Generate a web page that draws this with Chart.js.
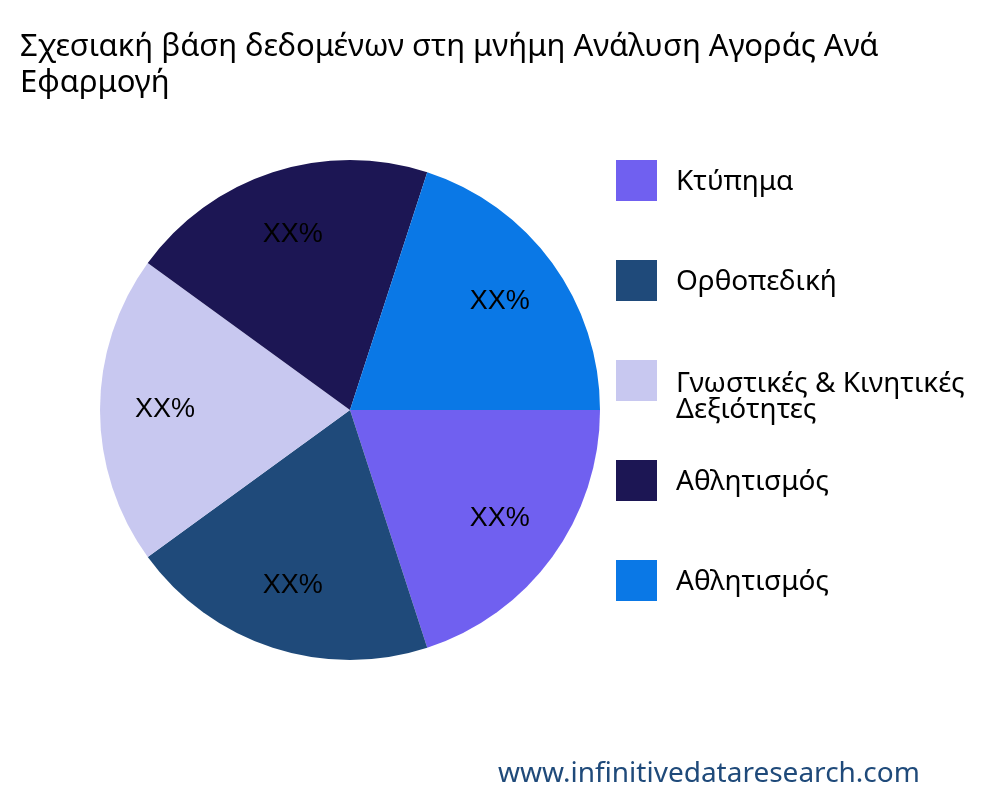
<!DOCTYPE html>
<html><head><meta charset="utf-8">
<script src="https://cdn.jsdelivr.net/npm/chart.js"></script>
<style>
body{margin:0;width:1000px;height:800px;overflow:hidden;position:relative;background:#fff;font-family:"Noto Sans","Open Sans",sans-serif}
#title{position:absolute;left:20px;top:26px;font-size:31px;line-height:36px;white-space:nowrap;color:#000}
#legend{position:absolute;left:616px;top:160px;width:500px}
.item{position:absolute;left:0;height:40px;white-space:nowrap}
.sw{position:absolute;left:0;top:0;width:41px;height:41px}
.tx{position:absolute;left:60px;top:2px;font-size:28px;line-height:26px;color:#000}
#wm{position:absolute;left:498px;top:752px;font-size:28px;color:#1F4A7A}
canvas{position:absolute;left:0;top:0}
</style></head><body>
<canvas id="c" width="1000" height="800"></canvas>
<div id="title">Σχεσιακή βάση δεδομένων στη μνήμη Ανάλυση Αγοράς Ανά<br>Εφαρμογή</div>
<div id="legend"></div>
<div id="wm">www.infinitivedataresearch.com</div>
<script>
const categories=["Κτύπημα","Ορθοπεδική","Γνωστικές & Κινητικές Δεξιότητες","Αθλητισμός","Αθλητισμός"];
const legendLabels=["Κτύπημα","Ορθοπεδική","Γνωστικές & Κινητικές<br>Δεξιότητες","Αθλητισμός","Αθλητισμός"];
const values=[20,20,20,20,20];
const sliceLabels=["XX%","XX%","XX%","XX%","XX%"];
const colors=["#7060F0","#1F4A7A","#C8C8F0","#1C1654","#0A78E6"];
const lg=document.getElementById('legend');
legendLabels.forEach((l,i)=>{const d=document.createElement('div');d.className='item';d.style.top=(i*100)+'px';
d.innerHTML='<div class="sw" style="background:'+colors[i]+'"></div><div class="tx" style="top:'+(i==2?8:6)+'px">'+l+'</div>';lg.appendChild(d);});
const labelPlugin={id:'lbl',afterDatasetsDraw(ch){const ctx=ch.ctx;ctx.save();ctx.font='27px "Liberation Sans",Arial';ctx.fillStyle='#000';ctx.textAlign='center';ctx.textBaseline='middle';
ch.getDatasetMeta(0).data.forEach((a,i)=>{const ang=(a.startAngle+a.endAngle)/2;const r=a.outerRadius*0.74;ctx.fillText(sliceLabels[i],a.x+Math.cos(ang)*r,a.y+Math.sin(ang)*r);});ctx.restore();}};
new Chart(document.getElementById('c'),{type:'pie',data:{labels:categories,datasets:[{data:values,backgroundColor:colors,borderWidth:0}]},
options:{responsive:false,animation:false,rotation:90,layout:{padding:{left:100,right:400,top:160,bottom:140}},plugins:{legend:{display:false},tooltip:{enabled:false}}},plugins:[labelPlugin]});
</script></body></html>
